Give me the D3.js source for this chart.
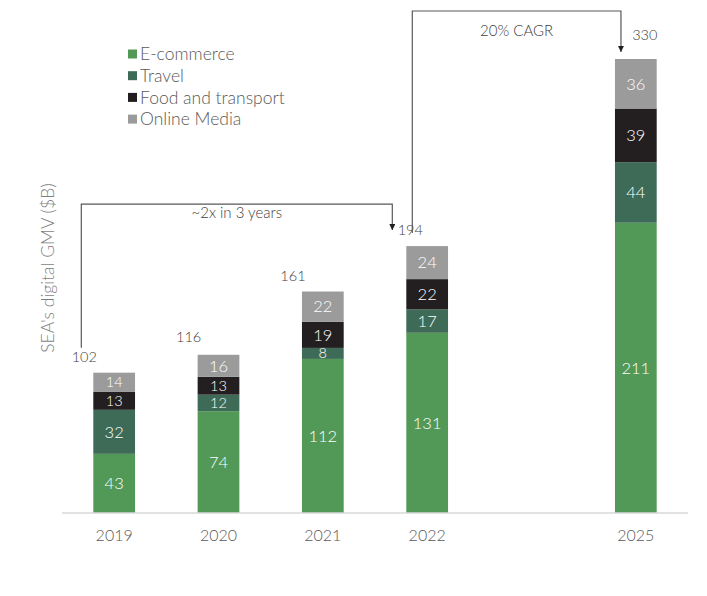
<!DOCTYPE html>
<html><head><meta charset="utf-8">
<script src="https://cdn.jsdelivr.net/npm/d3@7"></script>
<style>
body{margin:0;background:#fff;}
text{font-family:"Lato","Open Sans",sans-serif;font-weight:300;}
</style></head>
<body><svg id="chart" width="707" height="596"></svg>
<script>
const slots = ["2019","2020","2021","2022","gap","2025"];
const years = ["2019","2020","2021","2022","2025"];
const seriesNames = ["E-commerce","Travel","Food and transport","Online Media"];
const ecommerce = [43,74,112,131,211];
const travel = [32,12,8,17,44];
const food = [13,13,19,22,39];
const media = [14,16,22,24,36];
const totals = [102,116,161,194,330];
const colors = ["#529957","#3e6b57","#231f20","#9b9b9b"];
const annot1 = {from:"2019", to:"2022", label:"~2x in 3 years"};
const annot2 = {from:"2022", to:"2025", label:"20% CAGR"};

const svg = d3.select("#chart");
const margin = {left:62, right:19, top:59, bottom:83};
const W = 707, H = 596;
const x = d3.scaleBand().domain(slots).range([margin.left, W-margin.right]).paddingInner(0.6).paddingOuter(0.3);
const y = d3.scaleLinear().domain([0,330]).range([H-margin.bottom, margin.top]);

const rows = years.map((yr,i)=>({year:yr, "E-commerce":ecommerce[i], "Travel":travel[i], "Food and transport":food[i], "Online Media":media[i], total:totals[i]}));
const stack = d3.stack().keys(seriesNames)(rows);

const g = svg.append("g");
stack.forEach((layer,li)=>{
  g.selectAll(null).data(layer).enter().append("rect")
    .attr("x", d=>x(d.data.year)).attr("width", x.bandwidth())
    .attr("y", d=>y(d[1])).attr("height", d=>y(d[0])-y(d[1]))
    .attr("fill", colors[li]);
  g.selectAll(null).data(layer).enter().append("text")
    .attr("x", d=>x(d.data.year)+x.bandwidth()/2)
    .attr("y", d=>(y(d[0])+y(d[1]))/2)
    .attr("dy","0.35em").attr("text-anchor","middle")
    .attr("fill","#fff").attr("font-size",d=>(y(d[0])-y(d[1]))<20?14.5:16.5)
    .text(d=>d[1]-d[0]);
});

// axis
const axis = d3.axisBottom(x).tickSize(0).tickPadding(17).tickFormat(d=>d==="gap"?"":d);
const ax = svg.append("g").attr("transform",`translate(0,${y(0)})`).call(axis);
ax.select(".domain").attr("stroke","#d9d9d9").attr("stroke-width",1.5)
  .attr("d",`M${margin.left},0H${W-margin.right}`);
ax.selectAll("text").attr("font-size",16).attr("fill","#595959").attr("font-family","Lato, sans-serif").attr("font-weight",300);

// totals
svg.selectAll(null).data(rows).enter().append("text")
  .attr("x",(d,i)=> i===rows.length-1 ? x(d.year)+x.bandwidth()/2+9 : x(d.year)-(d.year==="2022"?-4:9))
  .attr("y",d=>y(d.total)-(d.year==="2025"?19:11))
  .attr("text-anchor","middle").attr("font-size",14.5).attr("fill","#404040")
  .text(d=>d.total);

// y title
svg.append("text").attr("transform",`translate(54,${(y(0)+y(330))/2-18})rotate(-90)`)
  .attr("text-anchor","middle").attr("font-size",17.5).attr("fill","#7f7f7f")
  .text("SEA's digital GMV ($B)");

// annotations
svg.append("defs").append("marker").attr("id","arr").attr("viewBox","0 0 10 10")
  .attr("refX",10).attr("refY",5).attr("markerWidth",5).attr("markerHeight",5).attr("orient","auto")
  .append("path").attr("d","M0,0L10,5L0,10Z").attr("fill","#231f20");

function bracket(a, x0, yStart, yTop, x1, yEnd, labelY){
  svg.append("path").attr("d",`M${x0},${yStart}V${yTop}H${x1}V${yEnd}`)
    .attr("fill","none").attr("stroke","#595959").attr("stroke-width",1.2).attr("marker-end","url(#arr)");
  svg.append("text").attr("x",(x0+x1)/2).attr("y",labelY).attr("text-anchor","middle")
    .attr("font-size",15).attr("fill","#404040").text(a.label);
}
const i19 = years.indexOf(annot1.from), i22 = years.indexOf(annot1.to), i25 = years.indexOf(annot2.to);
bracket(annot1, x(annot1.from)-12, y(totals[i19])-25, y(totals[i22])-42, x(annot1.to)-14, y(totals[i22])-16, y(totals[i22])-28);
bracket(annot2, x(annot2.from)+6, y(totals[i22])-13, 11, x(annot2.to)+6, y(totals[i25])-7, 36);

// legend
const lg = svg.append("g").attr("transform","translate(128,54)");
seriesNames.forEach((s,i)=>{
  lg.append("rect").attr("x",0).attr("y",i*21.7-4.5).attr("width",9).attr("height",9).attr("fill",colors[i]);
  lg.append("text").attr("x",12).attr("y",i*21.7).attr("dy","0.36em").attr("font-size",17.5).attr("fill","#595959").text(s);
});
</script></body></html>
